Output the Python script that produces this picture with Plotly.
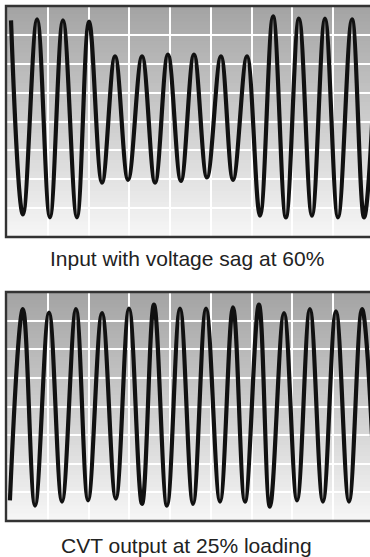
import plotly.graph_objects as go

# Oscilloscope captures (60 Hz), listed as the successive peaks and troughs of each trace.
# Time in ms, voltage in V (50 V per vertical division, 26 ms per horizontal division).
input_t = [3.2, 10.8, 19.8, 28.0, 36.3, 45.2, 52.9, 61.2, 69.5, 77.8, 86.7, 95.0, 103.2, 111.5,
           119.8, 128.1, 137.0, 144.7, 153.6, 161.9, 170.2, 178.4, 186.7, 195.0, 203.3, 211.6,
           220.5, 228.2, 236.4]
input_v = [175, -161, 177, -166, 175, -166, 173, -106, 113, -101, 113, -106, 116, -103,
           116, -97, 113, -101, 113, -163, 182, -166, 178, -163, 178, -166,
           177, -166, 177]

output_t = [2.5, 10.8, 18.5, 27.4, 35.7, 44.6, 52.3, 61.2, 70.0, 78.4, 86.7, 94.3, 102.6, 110.9,
            119.2, 127.5, 136.4, 144.7, 152.3, 161.2, 168.2, 177.2, 185.5, 193.7, 202.0, 210.3,
            218.6, 226.9, 235.2]
output_v = [-164, 170, -173, 164, -166, 170, -164, 163, -161, 171, -170, 178, -173, 171,
            -170, 171, -166, 173, -166, 178, -175, 163, -164, 170, -166, 166,
            -166, 170, -166]

captions = ["Input with voltage sag at 60%", "CVT output at 25% loading"]

W, H = 370, 557
T_RANGE = [0, 232]
V_RANGE = [-200, 200]
# panel placement in pixels (top, bottom edge)
panels = [(6, 237), (292, 521)]
caption_y = [258, 545]
LEFT = 6

fig = go.Figure()

traces = [(input_t, input_v), (output_t, output_v)]
for i, (t, v) in enumerate(traces):
    sfx = "" if i == 0 else str(i + 1)
    fig.add_trace(go.Scatter(
        x=t, y=v, mode="lines",
        line=dict(color="#111111", width=4.2, shape="spline", smoothing=1.1),
        xaxis="x" + sfx, yaxis="y" + sfx, showlegend=False, hoverinfo="skip",
    ))

axis_common = dict(showgrid=True, gridcolor="white", gridwidth=2, zeroline=False,
                   showticklabels=False, ticks="", showline=False, fixedrange=True)

shapes = []
annotations = []
n_bands = 60
top_c, bot_c = 164, 246
for i, (ptop, pbot) in enumerate(panels):
    sfx = "" if i == 0 else str(i + 1)
    dom_y = [1 - pbot / H, 1 - ptop / H]
    fig.update_layout(**{
        "xaxis" + sfx: dict(domain=[LEFT / W, 1], range=T_RANGE, dtick=26, tick0=0.6,
                            anchor="y" + sfx, **axis_common),
        "yaxis" + sfx: dict(domain=dom_y, range=V_RANGE, dtick=50,
                            anchor="x" + sfx, **axis_common),
    })
    xr = ("x" + sfx) + " domain"
    yr = ("y" + sfx) + " domain"
    # vertical grey gradient behind the grid
    for b in range(n_bands):
        f = b / (n_bands - 1)
        c = round(top_c + (bot_c - top_c) * f)
        shapes.append(dict(type="rect", xref=xr, yref=yr, x0=0, x1=1,
                           y0=max(0, 1 - (b + 1) / n_bands - 0.004), y1=1 - b / n_bands,
                           fillcolor=f"rgb({c},{c},{c})", line=dict(width=0), layer="below"))
    # frame
    shapes.append(dict(type="rect", xref=xr, yref=yr, x0=0, x1=1.05, y0=0, y1=1,
                       line=dict(color="#333333", width=2.4), fillcolor="rgba(0,0,0,0)",
                       layer="above"))
    annotations.append(dict(text=captions[i], xref="paper", yref="paper",
                            x=187 / W, y=1 - caption_y[i] / H, xanchor="center",
                            yanchor="middle", showarrow=False,
                            font=dict(family="Liberation Sans, Arial, sans-serif",
                                      size=21, color="#222222")))

fig.update_layout(width=W, height=H, margin=dict(l=0, r=0, t=0, b=0),
                  paper_bgcolor="white", plot_bgcolor="white",
                  shapes=shapes, annotations=annotations, showlegend=False)

fig.write_html("out.html", config={"displayModeBar": False})
